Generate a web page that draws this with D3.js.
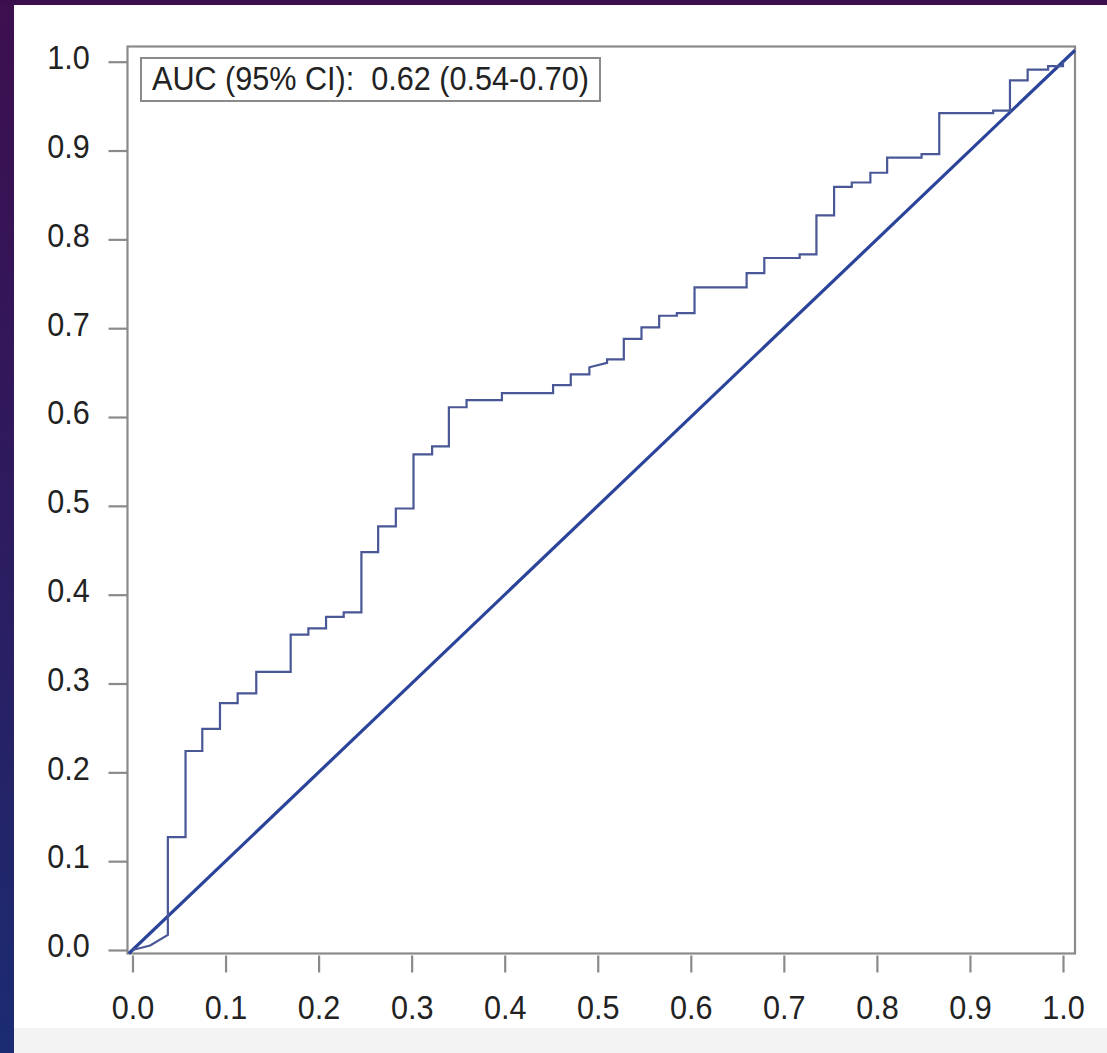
<!DOCTYPE html>
<html>
<head>
<meta charset="utf-8">
<script src="https://cdn.jsdelivr.net/npm/d3@7"></script>
<style>
  html, body { margin: 0; padding: 0; background: #3b0e4e; }
  svg { display: block; }
</style>
</head>
<body>
<div id="roc"></div>
<script>
// ROC curve steps (false positive rate, sensitivity)
var fpr = [0, 0.019, 0.038, 0.038, 0.057, 0.057, 0.075, 0.075, 0.094, 0.094, 0.113, 0.113,
  0.133, 0.133, 0.170, 0.170, 0.189, 0.189, 0.208, 0.208, 0.227, 0.227, 0.246, 0.246,
  0.264, 0.264, 0.283, 0.283, 0.302, 0.302, 0.322, 0.322, 0.340, 0.340, 0.359, 0.359,
  0.397, 0.397, 0.452, 0.452, 0.471, 0.471, 0.491, 0.491, 0.510, 0.510, 0.528, 0.528,
  0.547, 0.547, 0.566, 0.566, 0.585, 0.585, 0.604, 0.604, 0.660, 0.660, 0.679, 0.679,
  0.717, 0.717, 0.735, 0.735, 0.754, 0.754, 0.773, 0.773, 0.793, 0.793, 0.811, 0.811,
  0.848, 0.848, 0.867, 0.867, 0.925, 0.925, 0.943, 0.943, 0.962, 0.962, 0.984, 0.984,
  1.0, 1.0];
var tpr = [0, 0.005, 0.017, 0.127, 0.127, 0.224, 0.224, 0.249, 0.249, 0.278, 0.278, 0.289,
  0.289, 0.313, 0.313, 0.355, 0.355, 0.362, 0.362, 0.375, 0.375, 0.380, 0.380, 0.448,
  0.448, 0.477, 0.477, 0.497, 0.497, 0.558, 0.558, 0.567, 0.567, 0.611, 0.611, 0.619,
  0.619, 0.627, 0.627, 0.636, 0.636, 0.648, 0.648, 0.656, 0.661, 0.665, 0.665, 0.688,
  0.688, 0.701, 0.701, 0.714, 0.714, 0.717, 0.717, 0.746, 0.746, 0.762, 0.762, 0.779,
  0.779, 0.783, 0.783, 0.827, 0.827, 0.859, 0.859, 0.864, 0.864, 0.875, 0.875, 0.892,
  0.892, 0.896, 0.896, 0.942, 0.942, 0.945, 0.945, 0.979, 0.979, 0.991, 0.991, 0.995,
  0.995, 1.0];
var ticks = [0, 0.1, 0.2, 0.3, 0.4, 0.5, 0.6, 0.7, 0.8, 0.9, 1.0];
var aucLabel = "AUC (95% CI):  0.62 (0.54-0.70)";

var W = 1107, H = 1053;
var svg = d3.select("#roc").append("svg")
  .attr("width", W)
  .attr("height", H);

// backdrop: purple slide frame, white panel, grey strip at the bottom
var grad = svg.append("defs").append("linearGradient")
  .attr("id", "side").attr("x1", 0).attr("y1", 0).attr("x2", 0).attr("y2", 1);
grad.append("stop").attr("offset", "0%").attr("stop-color", "#3d0f4f");
grad.append("stop").attr("offset", "45%").attr("stop-color", "#2f1a5e");
grad.append("stop").attr("offset", "100%").attr("stop-color", "#1b2c72");
svg.append("rect").attr("width", W).attr("height", H).attr("fill", "url(#side)");
svg.append("rect").attr("x", 0).attr("y", 0).attr("width", W).attr("height", 5).attr("fill", "#3b0e4e");
svg.append("rect").attr("x", 14).attr("y", 5).attr("width", W - 14).attr("height", 1023).attr("fill", "#ffffff");
svg.append("rect").attr("x", 14).attr("y", 1028).attr("width", W - 14).attr("height", H - 1028).attr("fill", "#f3f3f3");

// plot region in pixels
var box = {left: 127.5, right: 1075, top: 46.5, bottom: 953.5};

var x = d3.scaleLinear()
  .domain([0, 1])
  .range([132.5, 1063]);
var y = d3.scaleLinear()
  .domain([0, 1])
  .range([950, 61.7]);

var font = "'Liberation Sans', Arial, Helvetica, sans-serif";
var grey = "#8a8a8a";
var squeeze = "scale(0.9,1)";  // the original lettering is a bit narrow

// x axis
var xAxis = svg.append("g")
  .attr("transform", "translate(0," + (box.bottom + 2) + ")")
  .call(d3.axisBottom(x).tickValues(ticks).tickFormat(d3.format(".1f")).tickSize(17).tickPadding(22));
xAxis.select(".domain").remove();
xAxis.selectAll("line").attr("stroke", grey).attr("stroke-width", 2.2);
xAxis.selectAll("text").attr("font-family", font).attr("font-size", 34).attr("fill", "#222")
  .attr("transform", squeeze);

// y axis
var yAxis = svg.append("g")
  .attr("transform", "translate(" + box.left + ",0)")
  .call(d3.axisLeft(y).tickValues(ticks).tickFormat(d3.format(".1f")).tickSize(19).tickPadding(23));
yAxis.select(".domain").remove();
yAxis.selectAll("line").attr("stroke", grey).attr("stroke-width", 2.2);
yAxis.selectAll("text").attr("font-family", font).attr("font-size", 34).attr("fill", "#222")
  .attr("dy", "0.2em")
  .attr("transform", squeeze);

// frame
svg.append("rect")
  .attr("x", box.left).attr("y", box.top)
  .attr("width", box.right - box.left).attr("height", box.bottom - box.top)
  .attr("fill", "none").attr("stroke", grey).attr("stroke-width", 2.2);

// reference diagonal, clipped to the frame
var lo = Math.max(x.invert(box.left), y.invert(box.bottom));
var hi = Math.min(x.invert(box.right), y.invert(box.top));
svg.append("line")
  .attr("x1", x(lo)).attr("y1", y(lo))
  .attr("x2", x(hi)).attr("y2", y(hi))
  .attr("stroke", "#2b449a").attr("stroke-width", 3.2);

// ROC curve
var pts = fpr.map(function(d, i) { return [d, tpr[i]]; });
svg.append("path")
  .datum(pts)
  .attr("fill", "none")
  .attr("stroke", "#4a5796")
  .attr("stroke-width", 2.2)
  .attr("d", d3.line()
    .x(function(d) { return x(d[0]); })
    .y(function(d) { return y(d[1]); }));

// AUC legend box
svg.append("rect")
  .attr("x", 141).attr("y", 58)
  .attr("width", 459).attr("height", 43)
  .attr("fill", "#fff").attr("stroke", grey).attr("stroke-width", 2);
svg.append("text")
  .attr("transform", "translate(152,90) " + squeeze)
  .attr("font-family", font).attr("font-size", 34).attr("fill", "#222")
  .style("white-space", "pre")
  .text(aucLabel);
</script>
</body>
</html>
